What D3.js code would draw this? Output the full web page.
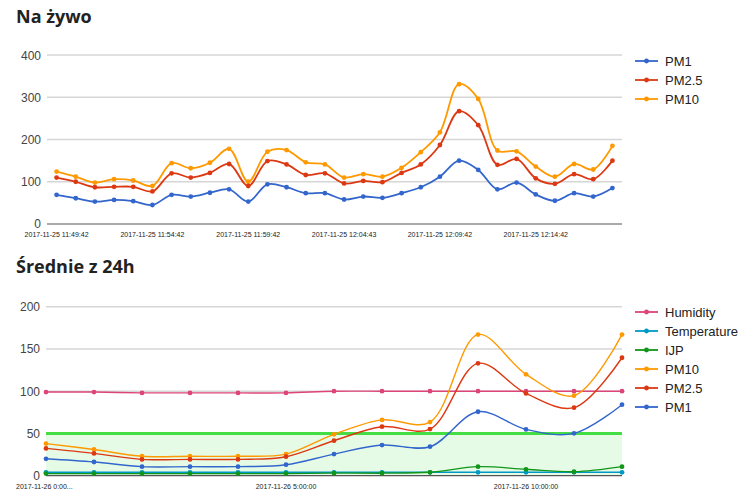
<!DOCTYPE html>
<html>
<head>
<meta charset="utf-8">
<script src="https://cdn.jsdelivr.net/npm/d3@7/dist/d3.min.js"></script>
<style>
  html, body { margin: 0; padding: 0; background: #fff; }
  svg { display: block; }
  .title { font-family: "Open Sans", "DejaVu Sans", sans-serif; font-weight: 700; font-size: 18px; fill: #222; }
  .ytick { font-family: "Liberation Sans", Arial, sans-serif; font-size: 12px; fill: #444; }
  .xtick { font-family: "Liberation Sans", Arial, sans-serif; font-size: 7px; fill: #222; }
  .legend { font-family: "Liberation Sans", Arial, sans-serif; font-size: 13px; fill: #222; }
</style>
</head>
<body>
<svg id="chart" width="750" height="500"></svg>
<script>
// ---------- DATA: "Na żywo" ----------
const liveTimes = [
  "2017-11-25 11:49:42","2017-11-25 11:50:42","2017-11-25 11:51:42","2017-11-25 11:52:42","2017-11-25 11:53:42",
  "2017-11-25 11:54:42","2017-11-25 11:55:42","2017-11-25 11:56:42","2017-11-25 11:57:42","2017-11-25 11:58:42",
  "2017-11-25 11:59:42","2017-11-25 12:00:42","2017-11-25 12:01:42","2017-11-25 12:02:42","2017-11-25 12:03:42",
  "2017-11-25 12:04:43","2017-11-25 12:05:42","2017-11-25 12:06:42","2017-11-25 12:07:42","2017-11-25 12:08:42",
  "2017-11-25 12:09:42","2017-11-25 12:10:42","2017-11-25 12:11:42","2017-11-25 12:12:42","2017-11-25 12:13:42",
  "2017-11-25 12:14:42","2017-11-25 12:15:42","2017-11-25 12:16:42","2017-11-25 12:17:42","2017-11-25 12:18:42"
];
const livePM1  = [69,61,53,57,54,45,69,65,74,82,53,94,87,73,73,58,65,62,73,87,112,150,128,82,98,70,55,73,65,85];
const livePM25 = [110,100,87,88,88,77,120,110,121,142,90,149,141,116,120,96,102,99,121,141,187,267,234,140,154,108,95,118,106,150];
const livePM10 = [124,112,98,106,103,90,144,132,145,178,100,171,175,146,141,110,118,112,133,170,217,331,296,174,172,136,112,142,129,185];
const liveYTicks = [0,100,200,300,400];

// ---------- DATA: "Średnie z 24h" ----------
const avgTimes = [
  "2017-11-26 0:00:00","2017-11-26 1:00:00","2017-11-26 2:00:00","2017-11-26 3:00:00","2017-11-26 4:00:00",
  "2017-11-26 5:00:00","2017-11-26 6:00:00","2017-11-26 7:00:00","2017-11-26 8:00:00","2017-11-26 9:00:00",
  "2017-11-26 10:00:00","2017-11-26 11:00:00","2017-11-26 12:00:00"
];
const avgHumidity    = [99,99,98,98,98,98,100,100,100,100,100,100,100];
const avgTemperature = [4,4,4,4,4,4,4,4,4,4,4,4,4];
const avgIJP         = [2.5,2.5,2.5,2.5,2.5,2.5,3,3,4,10.7,7.6,4.7,10.7];
const avgPM10        = [38,31,23,23,23,25.6,49,66,63.5,167,120,94.7,167];
const avgPM25        = [32.3,26.4,19.3,19.3,19.3,22.5,41.4,58,55.2,133,97.4,80.5,139.6];
const avgPM1         = [20,16.2,10.7,10.7,10.7,13,25.6,36.3,34.3,75.7,54.8,50.1,84];
const avgNorm        = 50;
const avgYTicks = [0,50,100,150,200];

// ---------- COLORS ----------
const C = {PM1:"#3366cc", PM25:"#dc3912", PM10:"#ff9900", IJP:"#109618", Temp:"#0099c6", Hum:"#dd4477"};

const svg = d3.select("#chart");

// truncate a label with "..." when it does not fit left of the plot; left-align it then
function fitLabel(textSel, leftLimit, maxW) {
  const node = textSel.node();
  const x = +textSel.attr("x");
  const full = textSel.text();
  let w = node.getComputedTextLength();
  if (x - w/2 >= leftLimit) return;
  textSel.attr("text-anchor", "start").attr("x", leftLimit);
  let s = full;
  while (s.length > 3 && w > maxW) {
    s = s.slice(0, -1);
    textSel.text(s + "...");
    w = node.getComputedTextLength();
  }
}

function drawChart(cfg) {
  const g = svg.append("g");
  g.append("text").attr("class","title").attr("x",16).attr("y",cfg.titleY).text(cfg.title);

  const x = d3.scalePoint().domain(cfg.cats).range([cfg.x0, cfg.x1]).padding(cfg.pad);
  const y = d3.scaleLinear().domain([0, cfg.yMax]).range([cfg.yBottom, cfg.yTop]);

  // gridlines
  g.selectAll(".grid").data(cfg.yTicks.filter(d => d !== 0)).enter().append("line")
    .attr("x1", cfg.x0).attr("x2", cfg.x1)
    .attr("y1", d => y(d)).attr("y2", d => y(d))
    .attr("stroke", "#d6d6d6").attr("stroke-width", 1.5);

  // y tick labels
  g.selectAll(".ytick").data(cfg.yTicks).enter().append("text")
    .attr("class","ytick").attr("x", cfg.x0 - 6).attr("y", d => y(d) + (d === 0 ? 3.8 : 4.5))
    .attr("text-anchor","end").text(d => d);

  if (cfg.band) cfg.band(g, x, y);

  // baseline
  g.append("line").attr("x1", cfg.x0).attr("x2", cfg.x1)
    .attr("y1", y(0)).attr("y2", y(0)).attr("stroke", "#555").attr("stroke-width", 1.2);

  // x labels
  cfg.cats.forEach((c, i) => {
    if (i % cfg.labelEvery !== 0) return;
    const t = g.append("text").attr("class","xtick").attr("x", x(c)).attr("y", cfg.xLabelY)
      .attr("text-anchor","middle").text(c);
    fitLabel(t, 16, 57);
  });

  const line = d3.line().x((d,i) => x(cfg.cats[i])).y(d => y(d)).curve(d3.curveCatmullRom.alpha(0.5));

  cfg.series.forEach(s => {
    g.append("path").attr("d", line(s.values)).attr("fill","none")
      .attr("stroke", s.color).attr("stroke-width", cfg.lineW).attr("stroke-linejoin","round");
    g.selectAll(null).data(s.values).enter().append("circle")
      .attr("cx", (d,i) => x(cfg.cats[i])).attr("cy", d => y(d)).attr("r", 2.4).attr("fill", s.color);
  });

  // legend
  cfg.legend.forEach((s, i) => {
    const ly = cfg.legendY + i * 19;
    g.append("line").attr("x1", 635).attr("x2", 658).attr("y1", ly).attr("y2", ly)
      .attr("stroke", s.color).attr("stroke-width", 1.8);
    g.append("circle").attr("cx", 646.5).attr("cy", ly).attr("r", 2.4).attr("fill", s.color);
    g.append("text").attr("class","legend").attr("x", 665).attr("y", ly + 4.5).text(s.name);
  });
}

// Chart 1
drawChart({
  title: "Na żywo", titleY: 23,
  cats: liveTimes, x0: 47, x1: 622, pad: 0.5,
  yMax: 400, yBottom: 224, yTop: 55, yTicks: liveYTicks,
  xLabelY: 237, labelEvery: 5, lineW: 1.8,
  series: [
    {name:"PM10", color:C.PM10, values:livePM10},
    {name:"PM2.5", color:C.PM25, values:livePM25},
    {name:"PM1", color:C.PM1, values:livePM1}
  ],
  legend: [
    {name:"PM1", color:C.PM1},
    {name:"PM2.5", color:C.PM25},
    {name:"PM10", color:C.PM10}
  ],
  legendY: 61
});

// Chart 2
drawChart({
  title: "Średnie z 24h", titleY: 273,
  cats: avgTimes, x0: 46, x1: 622, pad: 0,
  yMax: 200, yBottom: 475.7, yTop: 306.7, yTicks: avgYTicks,
  xLabelY: 488.5, labelEvery: 5, lineW: 1.4,
  band: (g, x, y) => {
    g.append("rect").attr("x", x(avgTimes[0])).attr("width", x(avgTimes[avgTimes.length-1]) - x(avgTimes[0]))
      .attr("y", y(avgNorm)).attr("height", y(0) - y(avgNorm)).attr("fill", "#e6fbe6");
    g.append("line").attr("x1", x(avgTimes[0])).attr("x2", x(avgTimes[avgTimes.length-1]))
      .attr("y1", y(avgNorm)).attr("y2", y(avgNorm)).attr("stroke", "#44dd44").attr("stroke-width", 3);
  },
  series: [
    {name:"Humidity", color:C.Hum, values:avgHumidity},
    {name:"Temperature", color:C.Temp, values:avgTemperature},
    {name:"IJP", color:C.IJP, values:avgIJP},
    {name:"PM10", color:C.PM10, values:avgPM10},
    {name:"PM2.5", color:C.PM25, values:avgPM25},
    {name:"PM1", color:C.PM1, values:avgPM1}
  ],
  legend: [
    {name:"Humidity", color:C.Hum},
    {name:"Temperature", color:C.Temp},
    {name:"IJP", color:C.IJP},
    {name:"PM10", color:C.PM10},
    {name:"PM2.5", color:C.PM25},
    {name:"PM1", color:C.PM1}
  ],
  legendY: 312
});
</script>
</body>
</html>
